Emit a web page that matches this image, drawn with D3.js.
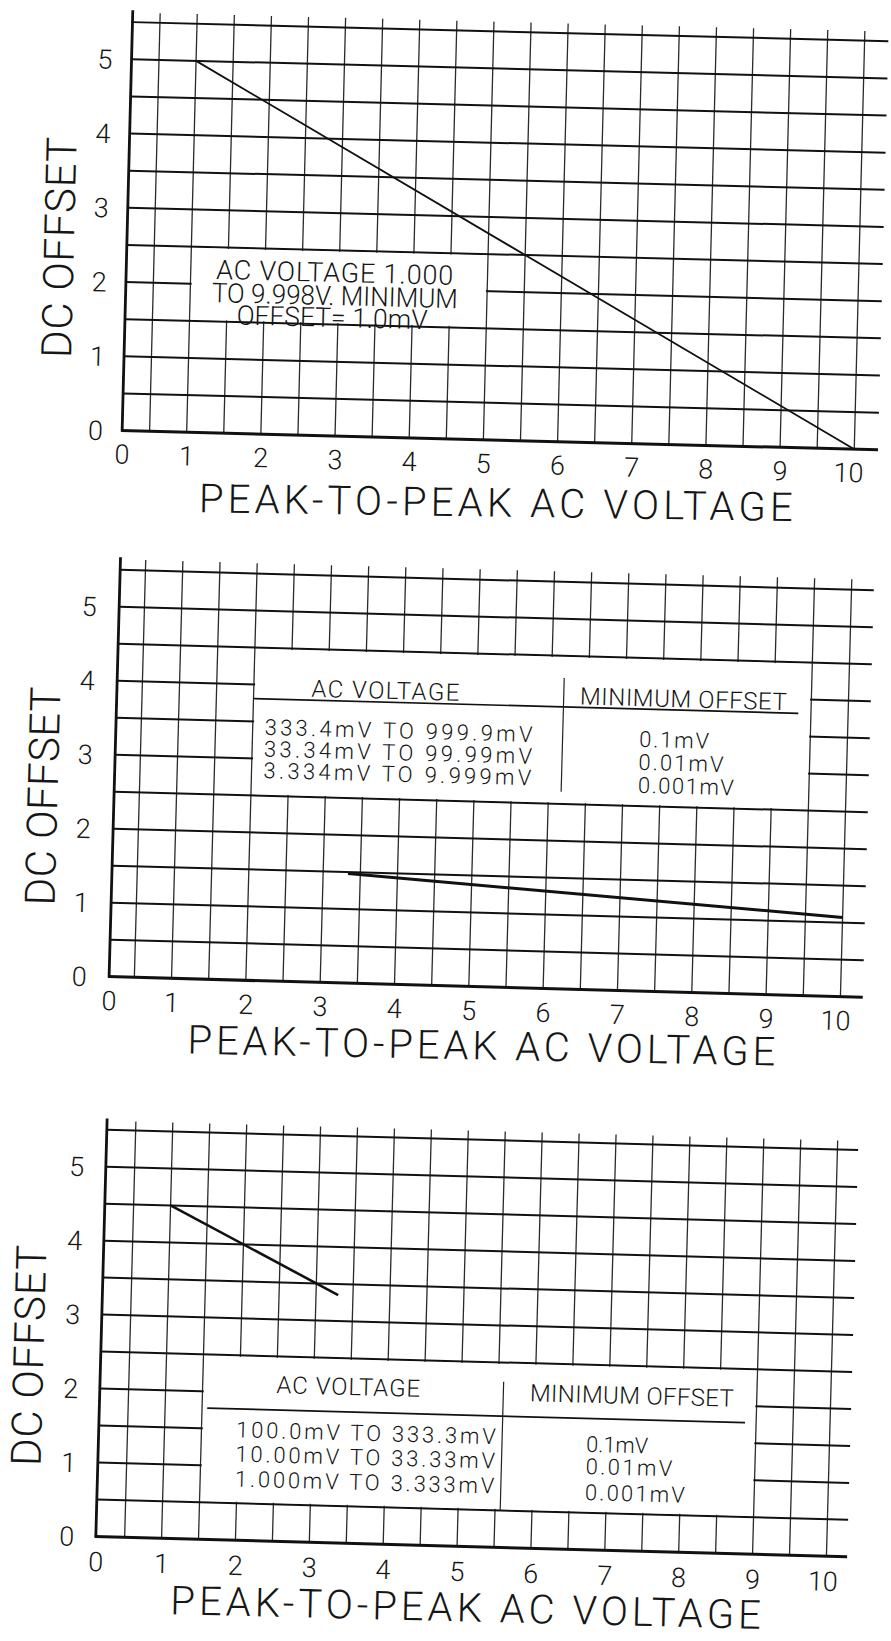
<!DOCTYPE html>
<html>
<head>
<meta charset="utf-8">
<script src="https://cdn.jsdelivr.net/npm/d3@7"></script>
<style>
  html, body { margin: 0; padding: 0; background: #fff; }
  svg { display: block; }
  text { fill: #161616; }
</style>
</head>
<body>
<svg id="chart" width="891" height="1641"></svg>
<script>
// ---------------- data ----------------
const xTicks = [0, 1, 2, 3, 4, 5, 6, 7, 8, 9, 10];
const xTickLabels = ["0", "1", "2", "3", "4", "5", "6", "7", "8", "9", "10"];
const yTicks = [0, 1, 2, 3, 4, 5];
const yTickLabels = ["0", "1", "2", "3", "4", "5"];
const xGrid = [0.5, 1, 1.5, 2, 2.5, 3, 3.5, 4, 4.5, 5, 5.5, 6, 6.5, 7, 7.5, 8, 8.5, 9, 9.5, 10];
const yGrid = [0.5, 1, 1.5, 2, 2.5, 3, 3.5, 4, 4.5, 5, 5.5];

const xTitle = "PEAK-TO-PEAK AC VOLTAGE";
const yTitle = "DC OFFSET";

// series (peak-to-peak AC voltage, DC offset)
const chart1X = [1, 10];
const chart1Y = [5, 0];
const chart2X = [3.334, 10];
const chart2Y = [1.48, 1.07];
const chart3X = [1, 3.3];
const chart3Y = [4.5, 3.35];

const note1 = ["AC VOLTAGE 1.000", "TO 9.998V. MINIMUM", "OFFSET= 1.0mV"];
const tableHead = ["AC VOLTAGE", "MINIMUM OFFSET"];
const table2Ranges = ["333.4mV TO 999.9mV", "33.34mV TO 99.99mV", "3.334mV TO 9.999mV"];
const table3Ranges = ["100.0mV TO 333.3mV", "10.00mV TO 33.33mV", "1.000mV TO 3.333mV"];
const tableOffsets = ["0.1mV", "0.01mV", "0.001mV"];

// ---------------- font: prefer a real light face ----------------
function pickFont() {
  const ctx = document.createElement("canvas").getContext("2d");
  const s = "AC VOLTAGE 0123456789 MINIMUM OFFSET";
  const fams = ["Roboto", "Inter", "Lato", "Open Sans", "Noto Sans", "DejaVu Sans"];
  for (const w of [300, 200]) {
    for (const f of fams) {
      ctx.font = `400 40px "${f}", monospace`; const b = ctx.measureText(s).width;
      ctx.font = `40px monospace`; const m = ctx.measureText(s).width;
      if (Math.abs(b - m) < 0.01) continue; // family not installed
      ctx.font = `${w} 40px "${f}", monospace`; const a = ctx.measureText(s).width;
      if (Math.abs(a - b) > 0.3) return { family: f, weight: w };
    }
  }
  return { family: "Roboto", weight: 400 };
}
const FONT = pickFont();
const FONT_STACK = `"${FONT.family}", Roboto, "DejaVu Sans", sans-serif`;

// ---------------- layout ----------------
const layouts = [
  { ox: 112.5, oy: 430.4, rot: 1.45, ux: 74.2, uy: 74.3, axisX: 0.13, gridTop: 5.63, gridRight: 10.32,
    yLabX: -17, xLabY: 23.5, lastDx: -5.7,
    xt: { x: 88.2, y: 79.6, rot: -0.6, w: 594 }, yt: { x: -43.3, y: -181.5, w: 221 }, curveW: 1.8 },
  { ox: 97.2, oy: 976.3, rot: 1.56, ux: 74.35, uy: 74, axisX: 0.16, gridTop: 5.64, gridRight: 10.3,
    yLabX: -18, xLabY: 24, lastDx: -4.8,
    xt: { x: 92, y: 74.8, rot: -0.4, w: 588 }, yt: { x: -44.6, y: -178.7, w: 218.6 }, curveW: 3 },
  { ox: 87.7, oy: 1536.3, rot: 1.55, ux: 73.9, uy: 74, axisX: 0.11, gridTop: 5.62, gridRight: 10.28,
    yLabX: -21, xLabY: 25, lastDx: -3.4,
    xt: { x: 84.5, y: 75.6, rot: -0.13, w: 590.6 }, yt: { x: -49.2, y: -179.2, w: 220.8 }, curveW: 2.6 }
];

const svg = d3.select("#chart");
svg.append("rect").attr("width", 891).attr("height", 1641).attr("fill", "#fff");

function styleText(sel, size) {
  sel.style("font-family", FONT_STACK).style("font-weight", FONT.weight).style("font-size", size + "px");
}
function fit(sel, w) {
  sel.each(function () {
    const n = this.getComputedTextLength();
    d3.select(this).attr("textLength", w).attr("lengthAdjust", n > w ? "spacingAndGlyphs" : "spacing");
  });
}

function drawChart(L, xs, ys) {
  const g = svg.append("g").attr("transform", `translate(${L.ox},${L.oy}) rotate(${L.rot})`);
  const x = d3.scaleLinear().domain([0, 10]).range([0, 10 * L.ux]);
  const y = d3.scaleLinear().domain([0, 5.5]).range([0, -5.5 * L.uy]);

  g.selectAll("line.vg").data(xGrid).join("line").attr("class", "vg")
    .attr("x1", d => x(d)).attr("x2", d => x(d))
    .attr("y1", y(0)).attr("y2", y(L.gridTop))
    .attr("stroke", "#2a2a2a").attr("stroke-width", 1.3);

  g.selectAll("line.hg").data(yGrid).join("line").attr("class", "hg")
    .attr("x1", x(L.axisX)).attr("x2", x(L.gridRight))
    .attr("y1", d => y(d)).attr("y2", d => y(d))
    .attr("stroke", "#111").attr("stroke-width", 2);

  g.append("line").attr("x1", x(L.axisX)).attr("x2", x(L.axisX))
    .attr("y1", y(0) + 1).attr("y2", y(L.gridTop + 0.03))
    .attr("stroke", "#111").attr("stroke-width", 2.8);
  g.append("line").attr("x1", x(L.axisX) - 1).attr("x2", x(L.gridRight))
    .attr("y1", y(0)).attr("y2", y(0))
    .attr("stroke", "#111").attr("stroke-width", 3);

  // x tick labels
  const xa = g.append("g").call(
    d3.axisBottom(x).tickValues(xTicks).tickFormat((d, i) => xTickLabels[i]).tickSize(0).tickPadding(0));
  xa.select(".domain").remove();
  xa.attr("font-size", null).attr("font-family", null);
  xa.selectAll("text")
    .attr("y", L.xLabY).attr("dy", "0.355em")
    .call(styleText, 27)
    .attr("dx", (d, i) => i === 0 ? x(L.axisX) - x(0) : (i === xTicks.length - 1 ? L.lastDx : 0));

  // y tick labels
  const ya = g.append("g").call(
    d3.axisLeft(y).tickValues(yTicks).tickFormat((d, i) => yTickLabels[i]).tickSize(0).tickPadding(0));
  ya.select(".domain").remove();
  ya.attr("font-size", null).attr("font-family", null);
  ya.selectAll("text")
    .attr("x", L.yLabX).attr("dy", "0.355em").attr("text-anchor", "middle")
    .call(styleText, 27);

  // titles
  g.append("text")
    .attr("transform", `translate(${L.xt.x},${L.xt.y}) rotate(${L.xt.rot})`)
    .call(styleText, 40).text(xTitle).call(fit, L.xt.w);
  g.append("text")
    .attr("transform", `translate(${L.yt.x},${L.yt.y}) rotate(-90)`)
    .attr("x", -L.yt.w / 2)
    .call(styleText, 42).text(yTitle).call(fit, L.yt.w);

  return { g, x, y, L, xs, ys };
}

function whiteBox(c, x0, x1, y0, y1) {
  const { g, x, y } = c;
  g.append("rect")
    .attr("x", x(x0) + 1.2).attr("y", y(y1) + 1.5)
    .attr("width", x(x1) - x(x0) - 2.4).attr("height", y(y0) - y(y1) - 3)
    .attr("fill", "#fff");
}

function drawCurve(c) {
  const { g, x, y, L, xs, ys } = c;
  const pts = xs.map((v, i) => [v, ys[i]]);
  g.append("path").datum(pts)
    .attr("d", d3.line().x(d => x(d[0])).y(d => y(d[1])))
    .attr("fill", "none").attr("stroke", "#111")
    .attr("stroke-width", L.curveW).attr("stroke-linecap", "butt");
}

function drawTable(c, T, ranges) {
  const { g, x, y } = c;
  whiteBox(c, T.x0, T.x1, T.y0, T.y1);
  g.append("line").attr("x1", x(T.ulX0)).attr("x2", x(T.ulX1))
    .attr("y1", y(T.ulY)).attr("y2", y(T.ulY)).attr("stroke", "#111").attr("stroke-width", 1.7);
  g.append("line").attr("x1", x(T.divX)).attr("x2", x(T.divX))
    .attr("y1", y(T.divY0)).attr("y2", y(T.divY1)).attr("stroke", "#222").attr("stroke-width", 1.2);
  tableHead.forEach((h, i) => {
    g.append("text").attr("x", x(T.headCx[i]) - T.headW[i] / 2).attr("y", y(T.headY[i]))
      .call(styleText, T.headSize).text(h).call(fit, T.headW[i]);
  });
  ranges.forEach((r, i) => {
    g.append("text").attr("x", x(T.leftX)).attr("y", y(T.leftY[i]))
      .call(styleText, T.rowSize).text(r).call(fit, T.leftW);
  });
  tableOffsets.forEach((r, i) => {
    g.append("text").attr("x", x(T.rightX)).attr("y", y(T.rightY[i]))
      .call(styleText, T.rowSize).text(r).call(fit, T.rightW[i]);
  });
}

// ---------------- chart 1 ----------------
const c1 = drawChart(layouts[0], chart1X, chart1Y);
whiteBox(c1, 1, 5, 1.5, 2.5);
{
  const centers = [2.94, 2.95, 2.92], bases = [2.074, 1.761, 1.468], widths = [237, 246, 191];
  note1.forEach((t, i) => {
    c1.g.append("text").attr("x", c1.x(centers[i]) - widths[i] / 2).attr("y", c1.y(bases[i]))
      .call(styleText, 27).text(t).call(fit, widths[i]);
  });
}
drawCurve(c1);

// ---------------- chart 2 ----------------
const c2 = drawChart(layouts[1], chart2X, chart2Y);
drawTable(c2, {
  x0: 2, x1: 9.5, y0: 2.5, y1: 4.5,
  ulY: 3.81, ulX0: 2.0, ulX1: 9.33,
  divX: 6.17, divY0: 2.665, divY1: 4.2,
  headY: [3.855, 3.85], headCx: [3.77, 7.78], headW: [148, 207], headSize: 24,
  leftX: 2.16, leftY: [3.325, 3.03, 2.74], leftW: 268,
  rightX: 7.2, rightY: [3.30, 2.99, 2.68], rightW: [70, 85, 96], rowSize: 22
}, table2Ranges);
drawCurve(c2);

// ---------------- chart 3 ----------------
const c3 = drawChart(layouts[2], chart3X, chart3Y);
drawTable(c3, {
  x0: 1.5, x1: 9, y0: 0.5, y1: 2.5,
  ulY: 1.775, ulX0: 1.57, ulX1: 8.85,
  divX: 5.57, divY0: 0.5, divY1: 2.24,
  headY: [2.004, 1.987], headCx: [3.47, 7.31], headW: [143.8, 204], headSize: 24,
  leftX: 1.97, leftY: [1.393, 1.065, 0.727], leftW: 259.6,
  rightX: 6.71, rightY: [1.325, 1.025, 0.673], rightW: [62, 86.7, 100], rowSize: 22
}, table3Ranges);
drawCurve(c3);
</script>
</body>
</html>
